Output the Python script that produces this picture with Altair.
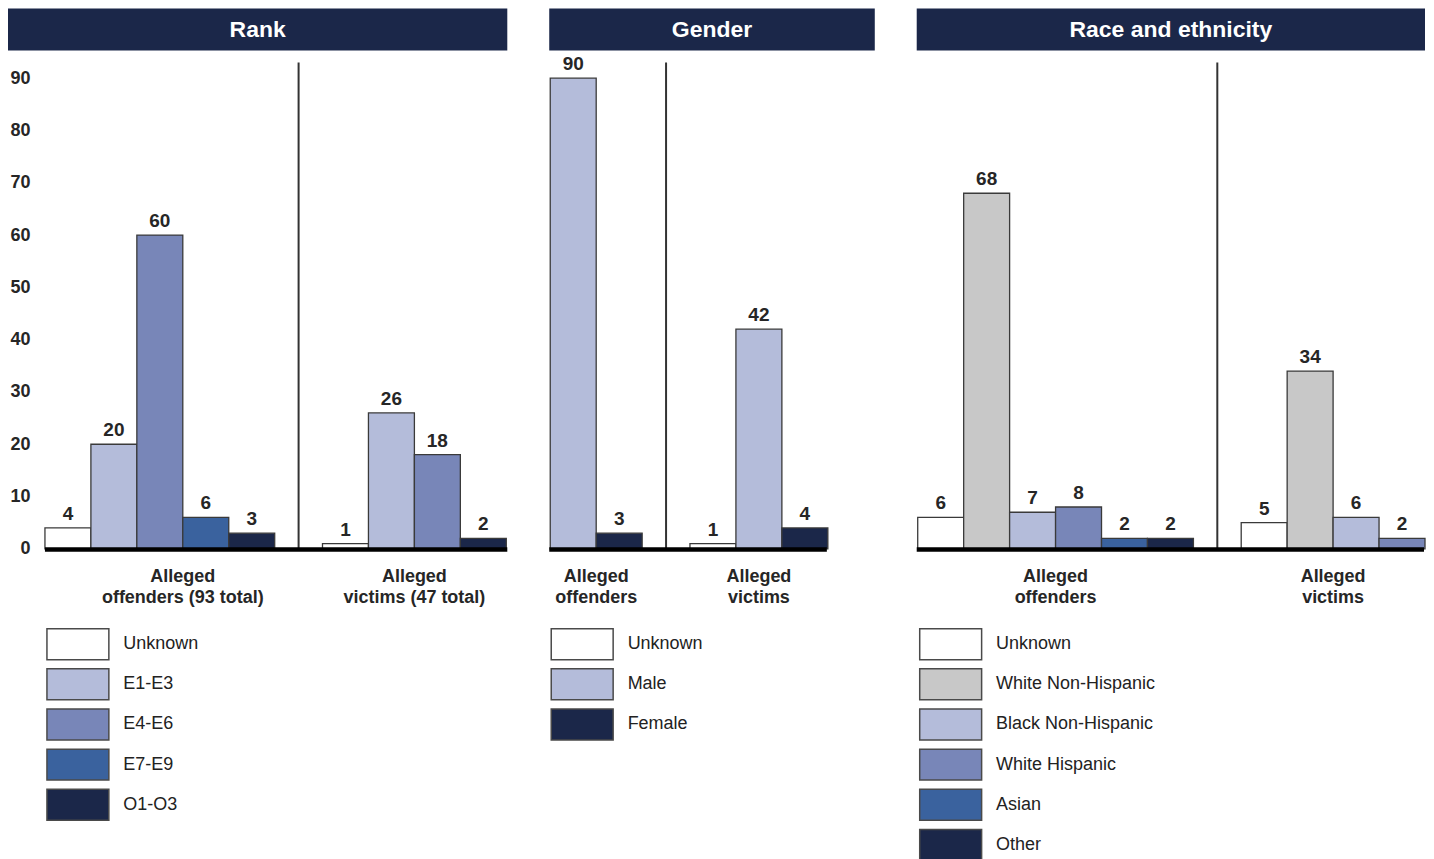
import altair as alt
import pandas as pd

FONT = "Liberation Sans, Arial, sans-serif"
NAVY = "#1b2749"
TXT = "#262626"

# ---------------- data ----------------
rank_cats = ["Unknown", "E1-E3", "E4-E6", "E7-E9", "O1-O3"]
rank_colors = ["#ffffff", "#b4bcda", "#7886b8", "#3a629e", "#1b2749"]
rank_offenders = [4, 20, 60, 6, 3]
rank_victims = [1, 26, 18, None, 2]
rank_groups = ["Alleged\noffenders (93 total)", "Alleged\nvictims (47 total)"]

gender_cats = ["Unknown", "Male", "Female"]
gender_colors = ["#ffffff", "#b4bcda", "#1b2749"]
gender_offenders = [None, 90, 3]
gender_victims = [1, 42, 4]
gender_groups = ["Alleged\noffenders", "Alleged\nvictims"]

race_cats = ["Unknown", "White Non-Hispanic", "Black Non-Hispanic",
             "White Hispanic", "Asian", "Other"]
race_colors = ["#ffffff", "#c8c8c8", "#b4bcda", "#7886b8", "#3a629e", "#1b2749"]
race_offenders = [6, 68, 7, 8, 2, 2]
race_victims = [5, 34, 6, 2, None, None]
race_groups = ["Alleged\noffenders", "Alleged\nvictims"]

y_ticks = [0, 10, 20, 30, 40, 50, 60, 70, 80, 90]

SLOT = 46
GAP = 1.04
H = 487
YMAX = 93


def build(cats, off, vic):
    rows = []
    s = 0.0
    for c, v in zip(cats, off):
        if v is not None:
            rows.append(dict(group=0, cat=c, value=v, s0=s, s1=s + 1, mid=s + 0.5))
            s += 1
    gap = s + GAP / 2
    s += GAP
    for c, v in zip(cats, vic):
        if v is not None:
            rows.append(dict(group=1, cat=c, value=v, s0=s, s1=s + 1, mid=s + 0.5))
            s += 1
    return pd.DataFrame(rows), gap, s


def panel(title, cats, colors, off, vic, groups, shifts, hx, bx, show_axis, lx):
    df, gap, n = build(cats, off, vic)
    W = round(n * SLOT)
    xs = alt.Scale(domain=[0, n], nice=False, zero=False)
    ys = alt.Scale(domain=[0, YMAX], nice=False)
    if show_axis:
        yax = alt.Axis(values=y_ticks, title=None, ticks=False, domain=False, grid=False,
                       labelFontSize=18, labelFontWeight="bold", labelColor=TXT,
                       labelPadding=15, labelFont=FONT)
    else:
        yax = None

    gl = df.groupby("group")["mid"].mean().reset_index()
    gl["mid"] = gl["mid"] + [shifts[g] for g in gl["group"]]
    gl["label"] = [groups[g] for g in gl["group"]]

    legend = alt.Legend(orient="none", legendX=lx, legendY=566, title=None,
                        symbolType="M-2,-1L2,-1L2,1L-2,1Z", symbolSize=961,
                        symbolStrokeColor="#4a4a4a", symbolStrokeWidth=1.5,
                        symbolOpacity=1, labelFontSize=18, labelFont=FONT,
                        labelColor="#222222", labelOffset=29, rowPadding=3.2,
                        padding=0)

    bars = alt.Chart(df).mark_rect(stroke="#3a3a3a", strokeWidth=1.3).encode(
        x=alt.X("s0:Q", scale=xs, axis=None),
        x2="s1:Q",
        y=alt.Y("value:Q", scale=ys, axis=yax),
        y2=alt.datum(0),
        fill=alt.Fill("cat:N", scale=alt.Scale(domain=cats, range=colors), legend=legend),
    )
    labels = alt.Chart(df).mark_text(baseline="bottom", dy=-4, fontSize=19,
                                     fontWeight="bold", color=TXT, font=FONT).encode(
        x=alt.X("mid:Q", scale=xs), y=alt.Y("value:Q", scale=ys), text="value:Q")

    div_df = pd.DataFrame({"x": [gap]})
    divider = alt.Chart(div_df).mark_rule(color="#333333", strokeWidth=2).encode(
        x=alt.X("x:Q", scale=xs), y=alt.datum(0), y2=alt.datum(YMAX))

    base_df = pd.DataFrame({"v": [0]})
    baseline = alt.Chart(base_df).mark_rect(color="#000000").encode(
        x=alt.value(bx[0]), x2=alt.value(bx[1]),
        y=alt.value(H - 1.5), y2=alt.value(H + 3))

    glab = alt.Chart(gl).mark_text(lineBreak="\n", lineHeight=21, fontSize=18,
                                   fontWeight="bold", color=TXT, font=FONT,
                                   baseline="alphabetic").encode(
        x=alt.X("mid:Q", scale=xs), y=alt.value(520.5), text="label:N")

    head_df = pd.DataFrame({"t": [title]})
    head = alt.Chart(head_df).mark_rect(color=NAVY).encode(
        x=alt.value(hx[0]), x2=alt.value(hx[1]), y=alt.value(-54), y2=alt.value(-12))
    head_t = alt.Chart(head_df).mark_text(color="white", fontSize=23, fontWeight="bold",
                                          font=FONT, baseline="middle").encode(
        x=alt.value((hx[0] + hx[1]) / 2), y=alt.value(-33), text="t:N")

    return alt.layer(head, head_t, bars, labels, divider, baseline, glab).properties(
        width=W, height=H)


p_rank = panel("Rank", rank_cats, rank_colors, rank_offenders, rank_victims,
               rank_groups, [0.5, 0.0], (-37, 463), (0, 463), True, 16.5)
p_gender = panel("Gender", gender_cats, gender_colors, gender_offenders, gender_victims,
                 gender_groups, [0.0, 0.0], (-1, 325), (-1, 277), False, 15.5)
p_race = panel("Race and ethnicity", race_cats, race_colors, race_offenders, race_victims,
               race_groups, [0.0, 0.0], (-1, 508), (-1, 507), False, 16.5)

chart = alt.hconcat(p_rank, p_gender, p_race, spacing=42).resolve_scale(
    x="independent", y="independent", fill="independent"
).resolve_legend(fill="independent").properties(padding=0).configure(
    font=FONT, view=alt.ViewConfig(stroke=None))

chart.save("out.html", embed_options={"renderer": "svg", "actions": False})
